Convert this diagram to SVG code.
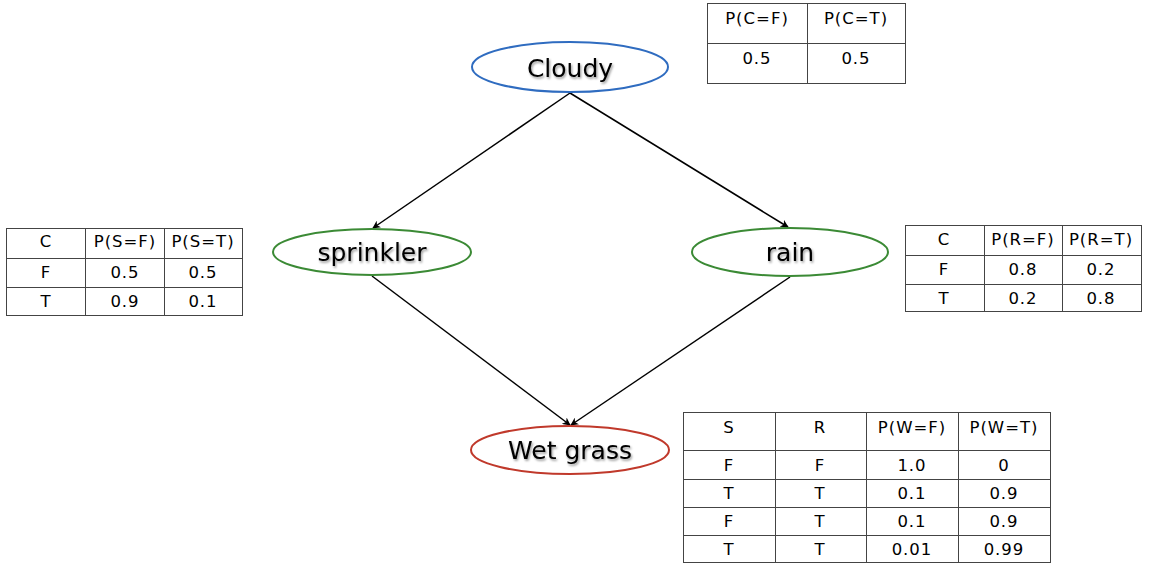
<svg xmlns="http://www.w3.org/2000/svg" width="1162" height="570" viewBox="0 0 1162 570">
<defs>
<style>
.node-label{font-family:"DejaVu Sans","Verdana",sans-serif;font-size:25px;fill:#000;text-anchor:middle;}
.cell{font-family:"DejaVu Sans","Verdana",sans-serif;font-size:16.5px;letter-spacing:1px;fill:#000;text-anchor:middle;}
.grid{fill:none;stroke:#444;stroke-width:1;}
.edge{stroke:#000;stroke-width:1.5;fill:none;marker-end:url(#arrow);}
</style>
<marker id="arrow" viewBox="0 0 10 10" refX="9" refY="5" markerWidth="8" markerHeight="8" markerUnits="userSpaceOnUse" orient="auto">
<path d="M0,0 L10,5 L0,10 L3,5 Z" fill="#000"/>
</marker>
<filter id="shadow" x="-10%" y="-30%" width="120%" height="160%">
<feDropShadow dx="1.2" dy="1.8" stdDeviation="0.9" flood-color="#000" flood-opacity="0.4"/>
</filter>
</defs>
<rect width="1162" height="570" fill="#fff"/>

<g id="connectors">
<line class="edge" x1="570" y1="93" x2="373" y2="228"/>
<line class="edge" x1="570" y1="93" x2="788" y2="227"/>
<line class="edge" x1="372" y1="276" x2="570" y2="425"/>
<line class="edge" x1="790" y1="277" x2="571" y2="425"/>
</g>

<g id="node-cloudy">
<ellipse cx="570" cy="67" rx="98" ry="25" fill="#fff" stroke="#2f6cc0" stroke-width="2"/>
<text class="node-label" x="570" y="77" filter="url(#shadow)">Cloudy</text>
</g>
<g id="node-sprinkler">
<ellipse cx="372" cy="252" rx="99" ry="23" fill="#fff" stroke="#3b8a35" stroke-width="2"/>
<text class="node-label" x="372" y="261" filter="url(#shadow)">sprinkler</text>
</g>
<g id="node-rain">
<ellipse cx="790" cy="252" rx="98" ry="24" fill="#fff" stroke="#3b8a35" stroke-width="2"/>
<text class="node-label" x="790" y="261" filter="url(#shadow)">rain</text>
</g>
<g id="node-wetgrass">
<ellipse cx="570" cy="450" rx="99" ry="24" fill="#fff" stroke="#c0392b" stroke-width="2"/>
<text class="node-label" x="570" y="459" filter="url(#shadow)">Wet grass</text>
</g>

<g id="table-cloudy">
<rect class="grid" x="707.5" y="3.5" width="198" height="80"/>
<line class="grid" x1="807.5" y1="3.5" x2="807.5" y2="83.5"/>
<line class="grid" x1="707.5" y1="43.5" x2="905.5" y2="43.5"/>
<text class="cell" x="757" y="24">P(C=F)</text>
<text class="cell" x="856" y="24">P(C=T)</text>
<text class="cell" x="757" y="64">0.5</text>
<text class="cell" x="856" y="64">0.5</text>
</g>

<g id="table-sprinkler">
<rect class="grid" x="6.5" y="228.5" width="236" height="87"/>
<line class="grid" x1="85.5" y1="228.5" x2="85.5" y2="315.5"/>
<line class="grid" x1="164.5" y1="228.5" x2="164.5" y2="315.5"/>
<line class="grid" x1="6.5" y1="258.5" x2="242.5" y2="258.5"/>
<line class="grid" x1="6.5" y1="287.5" x2="242.5" y2="287.5"/>
<text class="cell" x="46" y="247">C</text>
<text class="cell" x="125" y="247">P(S=F)</text>
<text class="cell" x="203" y="247">P(S=T)</text>
<text class="cell" x="46" y="278">F</text>
<text class="cell" x="125" y="278">0.5</text>
<text class="cell" x="203" y="278">0.5</text>
<text class="cell" x="46" y="307">T</text>
<text class="cell" x="125" y="307">0.9</text>
<text class="cell" x="203" y="307">0.1</text>
</g>

<g id="table-rain">
<rect class="grid" x="905.5" y="225.5" width="236" height="86"/>
<line class="grid" x1="984.5" y1="225.5" x2="984.5" y2="311.5"/>
<line class="grid" x1="1062.5" y1="225.5" x2="1062.5" y2="311.5"/>
<line class="grid" x1="905.5" y1="255.5" x2="1141.5" y2="255.5"/>
<line class="grid" x1="905.5" y1="284.5" x2="1141.5" y2="284.5"/>
<text class="cell" x="944" y="245">C</text>
<text class="cell" x="1023" y="245">P(R=F)</text>
<text class="cell" x="1101" y="245">P(R=T)</text>
<text class="cell" x="944" y="275">F</text>
<text class="cell" x="1023" y="275">0.8</text>
<text class="cell" x="1101" y="275">0.2</text>
<text class="cell" x="944" y="304">T</text>
<text class="cell" x="1023" y="304">0.2</text>
<text class="cell" x="1101" y="304">0.8</text>
</g>

<g id="table-wetgrass">
<rect class="grid" x="683.5" y="412.5" width="367" height="150"/>
<line class="grid" x1="775.5" y1="412.5" x2="775.5" y2="562.5"/>
<line class="grid" x1="866.5" y1="412.5" x2="866.5" y2="562.5"/>
<line class="grid" x1="958.5" y1="412.5" x2="958.5" y2="562.5"/>
<line class="grid" x1="683.5" y1="450.5" x2="1050.5" y2="450.5"/>
<line class="grid" x1="683.5" y1="479.5" x2="1050.5" y2="479.5"/>
<line class="grid" x1="683.5" y1="507.5" x2="1050.5" y2="507.5"/>
<line class="grid" x1="683.5" y1="535.5" x2="1050.5" y2="535.5"/>
<text class="cell" x="729" y="433">S</text>
<text class="cell" x="820" y="433">R</text>
<text class="cell" x="912" y="433">P(W=F)</text>
<text class="cell" x="1004" y="433">P(W=T)</text>
<text class="cell" x="729" y="471">F</text>
<text class="cell" x="820" y="471">F</text>
<text class="cell" x="912" y="471">1.0</text>
<text class="cell" x="1004" y="471">0</text>
<text class="cell" x="729" y="499">T</text>
<text class="cell" x="820" y="499">T</text>
<text class="cell" x="912" y="499">0.1</text>
<text class="cell" x="1004" y="499">0.9</text>
<text class="cell" x="729" y="527">F</text>
<text class="cell" x="820" y="527">T</text>
<text class="cell" x="912" y="527">0.1</text>
<text class="cell" x="1004" y="527">0.9</text>
<text class="cell" x="729" y="555">T</text>
<text class="cell" x="820" y="555">T</text>
<text class="cell" x="912" y="555">0.01</text>
<text class="cell" x="1004" y="555">0.99</text>
</g>
</svg>
